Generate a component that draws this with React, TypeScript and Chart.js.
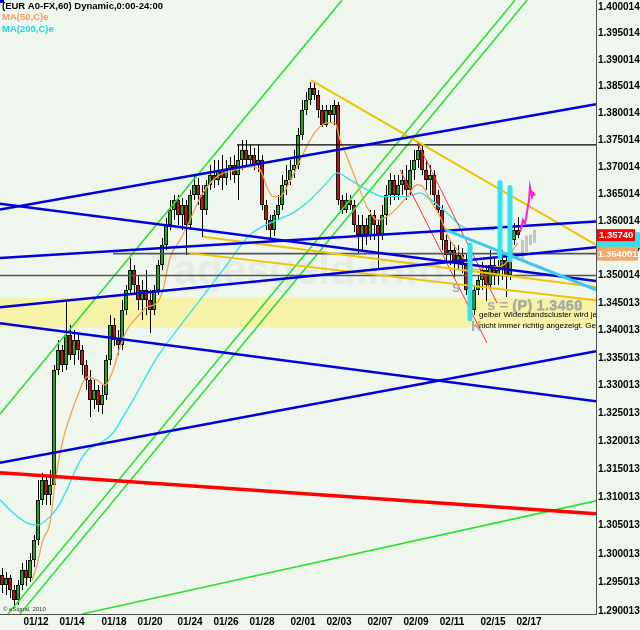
import React, { useEffect, useRef } from "react";
import { Chart, registerables } from "chart.js";

Chart.register(...registerables);

const BG = "#eef6ee";
const FONT = '"Liberation Sans", Arial, sans-serif';

// x axis: candle slot index (one slot per candle)
const xTickPos = [8.5, 17.5, 28, 37, 47, 56, 65, 75.25, 84.25, 94.5, 103.5, 112.5, 122.75, 131.75];
const xTickLabels = ["01/12", "01/14", "01/18", "01/20", "01/24", "01/26", "01/28", "02/01", "02/03", "02/07", "02/09", "02/11", "02/15", "02/17"];

const yTickValues = [1.290013, 1.295013, 1.300013, 1.305013, 1.310013, 1.315013, 1.320013, 1.325013, 1.330013, 1.335013, 1.340013, 1.345013, 1.350014, 1.355014, 1.360014, 1.365014, 1.370014, 1.375014, 1.380014, 1.385014, 1.390014, 1.395014, 1.400014];
const yMin = 1.28949;
const yMax = 1.40134;

const opens = [1.2963, 1.2945, 1.2958, 1.2937, 1.2919, 1.2945, 1.2972, 1.2958, 1.2990, 1.3025, 1.3096, 1.3131, 1.3105, 1.3122, 1.3328, 1.3364, 1.3337, 1.3392, 1.3355, 1.3383, 1.3364, 1.3337, 1.3310, 1.3274, 1.3292, 1.3265, 1.3283, 1.3346, 1.3410, 1.3383, 1.3373, 1.3437, 1.3474, 1.3510, 1.3483, 1.3455, 1.3474, 1.3455, 1.3437, 1.3474, 1.3520, 1.3556, 1.3593, 1.3621, 1.3639, 1.3612, 1.3630, 1.3593, 1.3648, 1.3667, 1.3648, 1.3621, 1.3667, 1.3686, 1.3676, 1.3695, 1.3680, 1.3695, 1.3704, 1.3686, 1.3713, 1.3732, 1.3713, 1.3723, 1.3704, 1.3713, 1.3630, 1.3602, 1.3584, 1.3612, 1.3630, 1.3667, 1.3676, 1.3695, 1.3704, 1.3760, 1.3806, 1.3825, 1.3847, 1.3834, 1.3806, 1.3778, 1.3806, 1.3797, 1.3815, 1.3639, 1.3621, 1.3639, 1.3630, 1.3593, 1.3575, 1.3593, 1.3575, 1.3612, 1.3593, 1.3575, 1.3612, 1.3648, 1.3676, 1.3648, 1.3667, 1.3676, 1.3658, 1.3695, 1.3713, 1.3732, 1.3695, 1.3676, 1.3686, 1.3648, 1.3621, 1.3565, 1.3538, 1.3547, 1.3525, 1.3538, 1.3520, 1.3474, 1.3437, 1.3474, 1.3492, 1.3510, 1.3483, 1.3520, 1.3501, 1.3510, 1.3529, 1.3501, 1.3565, 1.3584];
const highs = [1.2976, 1.2968, 1.2963, 1.2945, 1.2954, 1.2985, 1.2990, 1.3002, 1.3034, 1.3131, 1.3144, 1.3140, 1.3149, 1.3337, 1.3383, 1.3373, 1.3455, 1.3410, 1.3401, 1.3392, 1.3373, 1.3346, 1.3328, 1.3310, 1.3301, 1.3301, 1.3355, 1.3428, 1.3423, 1.3401, 1.3455, 1.3483, 1.3532, 1.3520, 1.3501, 1.3492, 1.3510, 1.3474, 1.3483, 1.3529, 1.3569, 1.3606, 1.3639, 1.3648, 1.3648, 1.3643, 1.3639, 1.3658, 1.3686, 1.3680, 1.3667, 1.3676, 1.3704, 1.3713, 1.3713, 1.3723, 1.3713, 1.3719, 1.3723, 1.3741, 1.3750, 1.3750, 1.3741, 1.3736, 1.3741, 1.3723, 1.3639, 1.3612, 1.3621, 1.3648, 1.3686, 1.3704, 1.3713, 1.3732, 1.3772, 1.3825, 1.3840, 1.3858, 1.3856, 1.3844, 1.3815, 1.3815, 1.3815, 1.3825, 1.3821, 1.3648, 1.3652, 1.3648, 1.3639, 1.3612, 1.3612, 1.3606, 1.3621, 1.3621, 1.3602, 1.3630, 1.3667, 1.3689, 1.3686, 1.3686, 1.3695, 1.3704, 1.3713, 1.3732, 1.3745, 1.3741, 1.3713, 1.3704, 1.3695, 1.3658, 1.3630, 1.3575, 1.3565, 1.3556, 1.3556, 1.3551, 1.3538, 1.3483, 1.3483, 1.3501, 1.3525, 1.3520, 1.3547, 1.3532, 1.3529, 1.3547, 1.3538, 1.3575, 1.3597, 1.3608];
const lows = [1.2933, 1.2928, 1.2923, 1.2909, 1.2910, 1.2937, 1.2945, 1.2951, 1.2978, 1.3016, 1.3087, 1.3087, 1.3087, 1.3114, 1.3319, 1.3324, 1.3328, 1.3346, 1.3337, 1.3346, 1.3319, 1.3292, 1.3244, 1.3257, 1.3253, 1.3248, 1.3274, 1.3337, 1.3373, 1.3355, 1.3364, 1.3428, 1.3465, 1.3465, 1.3437, 1.3419, 1.3428, 1.3396, 1.3428, 1.3465, 1.3510, 1.3547, 1.3584, 1.3602, 1.3593, 1.3584, 1.3538, 1.3584, 1.3639, 1.3630, 1.3571, 1.3612, 1.3658, 1.3662, 1.3667, 1.3658, 1.3667, 1.3676, 1.3671, 1.3639, 1.3695, 1.3699, 1.3704, 1.3695, 1.3691, 1.3621, 1.3584, 1.3569, 1.3573, 1.3602, 1.3621, 1.3648, 1.3667, 1.3680, 1.3695, 1.3750, 1.3797, 1.3815, 1.3825, 1.3791, 1.3773, 1.3773, 1.3784, 1.3778, 1.3630, 1.3612, 1.3615, 1.3621, 1.3580, 1.3543, 1.3547, 1.3556, 1.3565, 1.3565, 1.3514, 1.3565, 1.3593, 1.3630, 1.3639, 1.3639, 1.3648, 1.3639, 1.3648, 1.3676, 1.3699, 1.3686, 1.3658, 1.3648, 1.3630, 1.3612, 1.3547, 1.3525, 1.3520, 1.3497, 1.3510, 1.3506, 1.3465, 1.3423, 1.3428, 1.3465, 1.3474, 1.3455, 1.3474, 1.3483, 1.3483, 1.3492, 1.3461, 1.3492, 1.3556, 1.3569];
const closes = [1.2945, 1.2958, 1.2937, 1.2919, 1.2945, 1.2972, 1.2958, 1.2990, 1.3025, 1.3096, 1.3131, 1.3105, 1.3122, 1.3328, 1.3364, 1.3337, 1.3392, 1.3355, 1.3383, 1.3364, 1.3337, 1.3310, 1.3274, 1.3292, 1.3265, 1.3283, 1.3346, 1.3410, 1.3383, 1.3373, 1.3437, 1.3474, 1.3510, 1.3483, 1.3455, 1.3474, 1.3455, 1.3437, 1.3474, 1.3520, 1.3556, 1.3593, 1.3621, 1.3639, 1.3612, 1.3630, 1.3593, 1.3648, 1.3667, 1.3648, 1.3621, 1.3667, 1.3686, 1.3676, 1.3695, 1.3680, 1.3695, 1.3704, 1.3686, 1.3713, 1.3732, 1.3713, 1.3723, 1.3704, 1.3713, 1.3630, 1.3602, 1.3584, 1.3612, 1.3630, 1.3667, 1.3676, 1.3695, 1.3704, 1.3760, 1.3806, 1.3825, 1.3847, 1.3834, 1.3806, 1.3778, 1.3806, 1.3797, 1.3815, 1.3639, 1.3621, 1.3639, 1.3630, 1.3593, 1.3575, 1.3593, 1.3575, 1.3612, 1.3593, 1.3575, 1.3612, 1.3648, 1.3676, 1.3648, 1.3667, 1.3676, 1.3658, 1.3695, 1.3713, 1.3732, 1.3695, 1.3676, 1.3686, 1.3648, 1.3621, 1.3565, 1.3538, 1.3547, 1.3525, 1.3538, 1.3520, 1.3474, 1.3437, 1.3474, 1.3492, 1.3510, 1.3483, 1.3520, 1.3501, 1.3510, 1.3529, 1.3501, 1.3565, 1.3584, 1.3574];

// projected (ghost) pattern after the last candle
const ghostX = [130, 131, 132, 133];
const ghostHighs = [1.3565, 1.3573, 1.3575, 1.3584];
const ghostLows = [1.3529, 1.3543, 1.3556, 1.3560];

const forecastX = [129.5, 130.25, 130.75, 131.25, 131.75, 132, 132.5, 132.75, 133.25];
const forecastY = [1.3580, 1.3602, 1.3595, 1.3617, 1.3639, 1.3663, 1.3645, 1.3652, 1.3647];

const ma50X = [7.5, 8.75, 10.25, 12, 13.25, 15.25, 17, 18.75, 21.25, 23.75, 25.75, 27.75, 29.5, 31.25, 33.75, 36.25, 38.75, 40.25, 42, 44.5, 47, 49.5, 53.75, 58.75, 62, 64.5, 66.25, 67.75, 69.5, 71.25, 73.75, 77, 78.75, 81.25, 83.25, 84.5, 86.25, 88.75, 91.25, 93.75, 97, 99.5, 101.25, 103.75, 105.25, 107, 109.5, 112, 114.5, 117, 118.75, 121.25, 123.75, 126.25, 127.75, 129];
const ma50Y = [1.2954, 1.2981, 1.3025, 1.3055, 1.3126, 1.3203, 1.3244, 1.3279, 1.3316, 1.3310, 1.3301, 1.3328, 1.3370, 1.3401, 1.3424, 1.3442, 1.3450, 1.3474, 1.3532, 1.3565, 1.3602, 1.3643, 1.3682, 1.3695, 1.3700, 1.3695, 1.3663, 1.3645, 1.3645, 1.3663, 1.3700, 1.3750, 1.3769, 1.3782, 1.3782, 1.3750, 1.3719, 1.3671, 1.3626, 1.3602, 1.3612, 1.3630, 1.3645, 1.3667, 1.3663, 1.3639, 1.3608, 1.3565, 1.3541, 1.3516, 1.3510, 1.3516, 1.3516, 1.3525, 1.3547, 1.3560];

const ma200X = [-0.5, 2.75, 6.25, 8.75, 12, 14, 16.25, 18.75, 21.5, 24.5, 27.75, 30.25, 32.75, 38.75, 43.75, 49.5, 56.25, 62, 68.75, 72.75, 77, 81.25, 83.75, 87, 91.25, 95.25, 101.25, 104.5, 106.25, 111.25, 115.25, 119.5, 123.25];
const ma200Y = [1.3096, 1.3073, 1.3055, 1.3051, 1.3066, 1.3084, 1.3114, 1.3155, 1.3185, 1.3197, 1.3215, 1.3244, 1.3274, 1.3351, 1.3401, 1.3455, 1.3520, 1.3575, 1.3602, 1.3615, 1.3639, 1.3671, 1.3689, 1.3676, 1.3658, 1.3645, 1.3645, 1.3652, 1.3645, 1.3615, 1.3589, 1.3584, 1.3584];

// trend lines: [x1, price1, x2, price2]
const greenLines = [
  [-0.5, 1.3249, 85, 1.4013],
  [1.5, 1.2895, 128.25, 1.4013],
  [4.5, 1.2895, 131.25, 1.4013],
  [20, 1.2895, 148.5, 1.3094],
];
const blueLines = [
  [-0.5, 1.3621, 148.5, 1.3817],
  [-0.5, 1.3632, 148.5, 1.3490],
  [-0.5, 1.3532, 148.5, 1.3599],
  [-0.5, 1.3442, 148.5, 1.3552],
  [-0.5, 1.3413, 148.5, 1.3272],
  [-0.5, 1.3162, 148.5, 1.3362],
];
const redLine = [-0.5, 1.3144, 148.5, 1.3071];
const goldLines = [
  [77.25, 1.3862, 148.5, 1.3556],
  [50.25, 1.3571, 148.5, 1.3479],
  [47, 1.3541, 148.5, 1.3455],
];
const thinRedLines = [
  [99.5, 1.3695, 121.25, 1.3377],
  [103.75, 1.3747, 123.75, 1.3450],
];
const cyanTrend = [110.75, 1.3584, 148.5, 1.3474];
const cyanMarkers = [
  [117, 1.3556, 117, 1.3421],
  [124.5, 1.3671, 124.5, 1.3534],
  [127, 1.3662, 127, 1.3529],
];
const blackLevel = [58.75, 1.3741, 148.5, 1.3741];
const grayLevels = [
  [-0.5, 1.3500, 148.5, 1.3500],
  [27.75, 1.3540, 148.5, 1.3540],
];
const bandTop = 1.3459;
const bandBottom = 1.3405;
const lastPrice = 1.3574;
const refLevel = 1.354001;

const seg = (s: number[], color: string, width: number, extra: any = {}) => ({
  type: "line",
  data: [{ x: s[0], y: s[1] }, { x: s[2], y: s[3] }],
  borderColor: color,
  borderWidth: width,
  pointRadius: 0,
  fill: false,
  ...extra,
});

const bgPlugin = {
  id: "bg",
  beforeDraw(chart: any) {
    const { ctx, width, height } = chart;
    ctx.save();
    ctx.fillStyle = BG;
    ctx.fillRect(0, 0, width, height);
    ctx.restore();
  },
};

const candlePlugin = {
  id: "candles",
  beforeDatasetsDraw(chart: any) {
    const { ctx, chartArea: a } = chart;
    const x = chart.scales.x;
    const y = chart.scales.y;
    ctx.save();
    ctx.beginPath();
    ctx.rect(a.left, a.top, a.right - a.left, a.bottom - a.top);
    ctx.clip();
    // yellow resistance band
    const yb1 = y.getPixelForValue(bandTop);
    const yb2 = y.getPixelForValue(bandBottom);
    ctx.fillStyle = "#f6f2a8";
    ctx.fillRect(a.left, yb1, a.right - a.left, yb2 - yb1);
    // watermark
    ctx.font = "bold 42px " + FONT;
    ctx.fillStyle = "rgba(185,185,185,0.16)";
    ctx.textBaseline = "alphabetic";
    ctx.fillText("Tagesgeld.info", a.left + 151, a.top + 284);
    // candles
    const n = Math.min(opens.length, highs.length, lows.length, closes.length);
    for (let i = 0; i < n; i++) {
      const px = Math.round(x.getPixelForValue(i));
      const yo = y.getPixelForValue(opens[i]);
      const yc = y.getPixelForValue(closes[i]);
      const yh = y.getPixelForValue(highs[i]);
      const yl = y.getPixelForValue(lows[i]);
      ctx.fillStyle = "#000";
      ctx.fillRect(px, Math.round(yh), 1, Math.max(1, Math.round(yl - yh)));
      const top = Math.round(Math.min(yo, yc));
      const bot = Math.round(Math.max(yo, yc));
      const h = Math.max(2, bot - top);
      ctx.fillStyle = "#111";
      ctx.fillRect(px - 2, top, 4, h);
      if (h > 2) {
        ctx.fillStyle = closes[i] >= opens[i] ? "#1fa81f" : "#c41010";
        ctx.fillRect(px - 1, top + 1, 2, h - 2);
      }
    }
    // ghost candles
    ctx.fillStyle = "#c4c4c4";
    for (let i = 0; i < ghostX.length; i++) {
      const px = Math.round(x.getPixelForValue(ghostX[i]));
      const yh = y.getPixelForValue(ghostHighs[i]);
      const yl = y.getPixelForValue(ghostLows[i]);
      ctx.fillRect(px - 1, yh, 3, yl - yh);
    }
    ctx.restore();
  },
};

const textPlugin = {
  id: "texts",
  afterDatasetsDraw(chart: any) {
    const { ctx, chartArea: a } = chart;
    const x = chart.scales.x;
    const y = chart.scales.y;
    ctx.save();
    ctx.beginPath();
    ctx.rect(a.left, a.top, a.right - a.left, a.bottom - a.top);
    ctx.clip();
    ctx.textBaseline = "alphabetic";
    ctx.fillStyle = "rgba(160,160,160,0.85)";
    ctx.font = "bold 15px " + FONT;
    ctx.fillText("s", x.getPixelForValue(112.5), y.getPixelForValue(1.3469));
    ctx.fillText("s = (P) 1.3460", x.getPixelForValue(121.25), y.getPixelForValue(1.3437));
    ctx.fillStyle = "rgba(160,160,160,0.55)";
    ctx.fillText("(P) 1.3458", x.getPixelForValue(127.5), y.getPixelForValue(1.3435));
    ctx.fillStyle = "rgba(160,160,160,0.85)";
    ctx.fillText("K", x.getPixelForValue(117.25), y.getPixelForValue(1.3398));
    ctx.fillStyle = "#000";
    ctx.font = "8px " + FONT;
    ctx.fillText("gelber Widerstandscluster wird jedoch", x.getPixelForValue(119.25), y.getPixelForValue(1.3424));
    ctx.fillText("nicht immer richtig angezeigt. Gehen", x.getPixelForValue(119.25), y.getPixelForValue(1.3404));
    ctx.restore();
  },
  afterDraw(chart: any) {
    const { ctx } = chart;
    const y = chart.scales.y;
    ctx.save();
    ctx.textBaseline = "alphabetic";
    ctx.fillStyle = "#0000ff";
    ctx.fillRect(0, 0, 4, 3);
    ctx.font = "bold 9.5px " + FONT;
    ctx.fillStyle = "#000";
    ctx.fillText("(EUR A0-FX,60) Dynamic,0:00-24:00", 2, 9);
    ctx.fillStyle = "#f0a060";
    ctx.fillText("MA(50,C)e", 2, 20);
    ctx.fillStyle = "#1fd6e6";
    ctx.fillText("MA(200,C)e", 2, 32);
    ctx.fillStyle = "#333";
    ctx.font = "6px " + FONT;
    ctx.fillText("\u00a9 eSignal, 2010", 3, 611);
    // price boxes on the axis
    const yl = y.getPixelForValue(lastPrice);
    const yr = y.getPixelForValue(refLevel);
    ctx.fillStyle = "#30e0f0";
    ctx.fillRect(597, yl - 3, 43, 16);
    ctx.fillStyle = "#ff0000";
    ctx.fillRect(597, yl - 6, 38, 12);
    ctx.fillStyle = "#f4a868";
    ctx.fillRect(597, yr - 7, 41, 14);
    ctx.fillStyle = "#fff";
    ctx.font = "bold 9.5px " + FONT;
    ctx.textBaseline = "middle";
    ctx.fillText("1.35740", 599, yl + 0.5);
    ctx.fillText("1.354001", 598, yr + 0.5);
    ctx.restore();
  },
};

export default function App() {
  const ref = useRef<HTMLCanvasElement>(null);
  useEffect(() => {
    const canvas = ref.current;
    if (!canvas) return;
    const datasets: any[] = [];
    cyanMarkers.forEach((s) => datasets.push(seg(s, "#33e3f2", 5, { borderCapStyle: "round" })));
    datasets.push({
      type: "line",
      data: forecastX.map((v, i) => ({ x: v, y: forecastY[i] })),
      borderColor: "#ff22cc",
      borderWidth: 2,
      pointRadius: 0,
      fill: false,
    });
    datasets.push(seg(cyanTrend, "#3cc8f0", 3));
    blueLines.forEach((s) => datasets.push(seg(s, "#0000dd", 2.5)));
    goldLines.forEach((s) => datasets.push(seg(s, "#f2c200", 2)));
    thinRedLines.forEach((s) => datasets.push(seg(s, "#ff3030", 1)));
    datasets.push(seg(redLine, "#ff0000", 3.5));
    datasets.push(seg(blackLevel, "#000000", 1.2));
    grayLevels.forEach((s) => datasets.push(seg(s, "#555555", 1.6)));
    datasets.push({
      type: "line",
      data: ma50X.map((v, i) => ({ x: v, y: ma50Y[i] })),
      borderColor: "#f4a050",
      borderWidth: 1.3,
      pointRadius: 0,
      fill: false,
      cubicInterpolationMode: "monotone",
    });
    datasets.push({
      type: "line",
      data: ma200X.map((v, i) => ({ x: v, y: ma200Y[i] })),
      borderColor: "#2ee0f0",
      borderWidth: 1.3,
      pointRadius: 0,
      fill: false,
      cubicInterpolationMode: "monotone",
    });
    greenLines.forEach((s) => datasets.push(seg(s, "#2ee02e", 1.6)));

    const chart = new Chart(canvas, {
      type: "line",
      data: { datasets },
      plugins: [bgPlugin, candlePlugin, textPlugin],
      options: {
        responsive: false,
        devicePixelRatio: 1,
        animation: false,
        events: [],
        layout: { padding: 0 },
        plugins: { legend: { display: false }, tooltip: { enabled: false } },
        elements: { point: { radius: 0 }, line: { tension: 0 } },
        scales: {
          x: {
            type: "linear",
            position: "bottom",
            min: -0.5,
            max: 148.5,
            afterFit: (s: any) => {
              s.height = 16;
              s.paddingLeft = 0;
              s.paddingRight = 0;
            },
            afterBuildTicks: (s: any) => {
              s.ticks = xTickPos.map((v) => ({ value: v }));
            },
            ticks: {
              autoSkip: false,
              maxRotation: 0,
              padding: 2,
              color: "#000",
              font: { family: FONT, size: 10, weight: "bold" },
              callback: (_v: any, i: number) => xTickLabels[i],
            },
            grid: { display: false, drawTicks: false },
            border: { display: true, color: "#505050", width: 1 },
          },
          y: {
            type: "logarithmic",
            position: "right",
            min: yMin,
            max: yMax,
            afterFit: (s: any) => {
              s.width = 44;
              s.paddingTop = 0;
              s.paddingBottom = 0;
            },
            afterBuildTicks: (s: any) => {
              s.ticks = yTickValues.map((v) => ({ value: v }));
            },
            ticks: {
              autoSkip: false,
              padding: 2,
              color: "#000",
              font: { family: FONT, size: 10, weight: "bold" },
              callback: (_v: any, i: number) => yTickValues[i].toFixed(6),
            },
            grid: { display: false, drawTicks: false },
            border: { display: true, color: "#505050", width: 1 },
          },
        },
      },
    } as any);
    return () => chart.destroy();
  }, []);
  return (
    <div style={{ position: "fixed", left: 0, top: 0, width: 640, height: 630, background: BG }}>
      <canvas ref={ref} width={640} height={630} style={{ display: "block", width: 640, height: 630 }} />
    </div>
  );
}
